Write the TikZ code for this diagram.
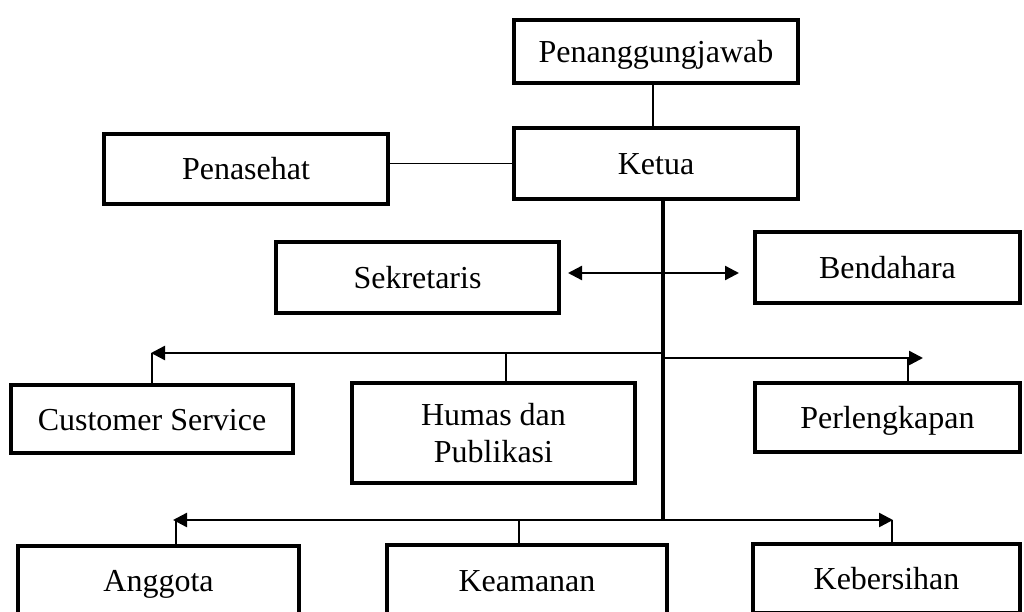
\documentclass[tikz,border=0pt]{standalone}
\usepackage{fontspec}
\setmainfont{Liberation Serif}
\usetikzlibrary{arrows.meta}
\begin{document}
\begin{tikzpicture}[x=1pt,y=-1pt,
  box/.style={draw,line width=4pt,inner sep=0pt,align=center,
    font=\fontsize{32}{37}\selectfont,text height=22pt,text depth=0pt},
  thinline/.style={line width=1.3pt},
  arrline/.style={line width=2.4pt},
  trunk/.style={line width=3.6pt},
  tip/.style={-{Triangle[length=14pt,width=14pt]}},
  tips/.style={{Triangle[length=14pt,width=14pt]}-{Triangle[length=14pt,width=14pt]}}]
\useasboundingbox (0,0) rectangle (1024,612);
\clip (0,0) rectangle (1024,612);
\fill[white] (0,0) rectangle (1024,612);
% boxes
\node[box,minimum width=284pt,minimum height=63pt] (pj) at (656,51.5) {Penanggungjawab};
\node[box,minimum width=284pt,minimum height=71pt] (ketua) at (656,163.5) {Ketua};
\node[box,minimum width=284pt,minimum height=70pt] (penasehat) at (246,169) {Penasehat};
\node[box,minimum width=283pt,minimum height=71pt] (sekretaris) at (417.5,277.5) {Sekretaris};
\node[box,minimum width=265pt,minimum height=71pt] (bendahara) at (887.5,267.5) {Bendahara};
\node[box,minimum width=282pt,minimum height=68pt] (cs) at (152,419) {Customer Service};
\node[box,minimum width=283pt,minimum height=100pt,text height=59pt,text depth=0pt] (humas) at (493.5,433) {Humas dan\\Publikasi};
\node[box,minimum width=265pt,minimum height=69pt] (perl) at (887.5,417.5) {Perlengkapan};
\node[box,minimum width=281pt,minimum height=69pt] (anggota) at (158.5,580.5) {Anggota};
\node[box,minimum width=280pt,minimum height=70pt] (keamanan) at (527,580) {Keamanan};
\node[box,minimum width=267pt,minimum height=69pt] (kebersihan) at (886.5,578.5) {Kebersihan};
% coordinates
\coordinate (ttop) at (663,199);
\coordinate (jl) at (663,353);
\coordinate (jr) at (663,358);
\coordinate (jb) at (663,520);
\coordinate (sa) at (568,273);
\coordinate (ba) at (739,273);
\coordinate (lend) at (151,353);
\coordinate (rend) at (923,358);
\coordinate (htick) at (506,353);
\coordinate (ptick) at (908,358);
\coordinate (bl) at (173,520);
\coordinate (br) at (893,520);
\coordinate (atick) at (176,520);
\coordinate (ktick) at (519,520);
\coordinate (ktick2) at (892,520);
% connectors
\draw[thinline] ([xshift=-3pt]pj.south) -- ([xshift=-3pt]ketua.north);
\draw[thinline] (ketua.west -| penasehat.east) -- (ketua.west);
\draw[trunk] (ttop) -- (jb);
\draw[arrline,tips] (sa) -- (ba);
\draw[arrline,tip] (jl) -- (lend);
\draw[arrline,tip] (jr) -- (rend);
\draw[thinline] (cs.north) -- (cs.north |- lend);
\draw[thinline] (htick |- humas.north) -- (htick);
\draw[thinline] (ptick |- perl.north) -- (ptick);
\draw[arrline,tips] (bl) -- (br);
\draw[thinline] (atick |- anggota.north) -- (atick);
\draw[thinline] (ktick |- keamanan.north) -- (ktick);
\draw[thinline] (ktick2 |- kebersihan.north) -- (ktick2);
\end{tikzpicture}
\end{document}
